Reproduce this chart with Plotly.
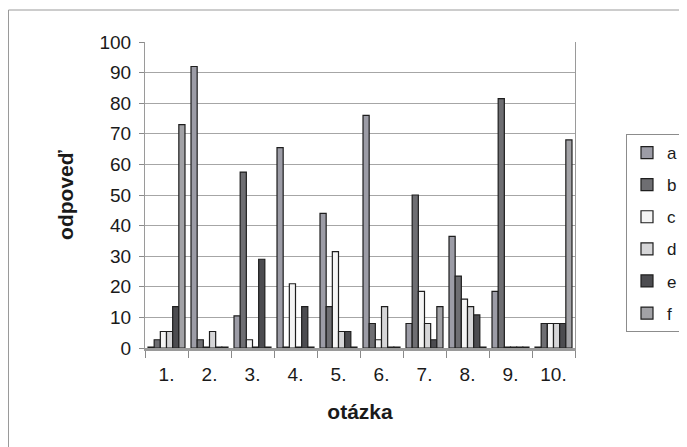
import plotly.graph_objects as go

categories = ["1.", "2.", "3.", "4.", "5.", "6.", "7.", "8.", "9.", "10."]
series_names = ["a", "b", "c", "d", "e", "f"]
a_vals = [0.3, 92, 10.5, 65.5, 44, 76, 8, 36.5, 18.5, 0.3]
b_vals = [2.7, 2.7, 57.5, 0.3, 13.5, 8, 50, 23.5, 81.5, 8]
c_vals = [5.4, 0.3, 2.7, 21, 31.5, 2.7, 18.5, 16, 0.3, 8]
d_vals = [5.4, 5.4, 0.3, 0.3, 5.4, 13.5, 8, 13.5, 0.3, 8]
e_vals = [13.5, 0.3, 29, 13.5, 5.4, 0.3, 2.7, 10.8, 0.3, 8]
f_vals = [73, 0.3, 0.3, 0.3, 0.3, 0.3, 13.5, 0.3, 0.3, 68]
series_values = [a_vals, b_vals, c_vals, d_vals, e_vals, f_vals]
colors = ["#9c9ca6", "#6e6e72", "#f4f4f4", "#d6d6d8", "#4c4c50", "#a2a2a6"]
y_ticks = [0, 10, 20, 30, 40, 50, 60, 70, 80, 90, 100]

FONT = "Liberation Sans, Arial, sans-serif"

# the page body adds an 8px offset; work in screen coordinates and convert
OFF = 8
W, H = 687, 447
L = 145 - OFF
T = 42 - OFF
B = H - (348 - OFF)
R = W - (575 - OFF)
PW = W - L - R
PH = H - T - B


def px(sx):
    return (sx - OFF - L) / PW


def py(sy):
    return (H - B - (sy - OFF)) / PH


fig = go.Figure()
for name, vals, col in zip(series_names, series_values, colors):
    fig.add_trace(go.Bar(
        x=categories, y=vals, name=name, legendgroup=name,
        marker=dict(color=col, line=dict(color="#1e1e1e", width=1.2)),
    ))

fig.update_layout(
    width=W, height=H,
    margin=dict(l=L, r=R, t=T, b=B, autoexpand=False),
    paper_bgcolor="white", plot_bgcolor="white",
    barmode="group", bargap=0.14, bargroupgap=0,
    font=dict(family=FONT, color="#1a1a1a"),
    showlegend=True,
    legend=dict(
        x=px(626), xanchor="left",
        y=py(134), yanchor="top",
        font=dict(size=17, family=FONT, color="#1a1a1a"),
        bordercolor="#8c8c8c", borderwidth=1,
        tracegroupgap=7, itemwidth=30,
    ),
    shapes=[dict(type="rect", xref="paper", yref="paper",
                 x0=px(8.5), x1=px(720),
                 y0=py(480), y1=py(10),
                 line=dict(color="#9a9a9a", width=1), layer="below")],
)

fig.update_xaxes(
    type="category",
    tickfont=dict(size=19, family=FONT),
    ticks="outside", tickson="boundaries", ticklen=7, tickcolor="#8a8a8a",
    ticklabelstandoff=7,
    showline=True, linecolor="#9a9a9a", linewidth=3, mirror=False,
    title=dict(text="<b>otázka</b>", font=dict(size=21, family=FONT), standoff=21),
)
fig.update_yaxes(
    range=[0, 100], tickvals=y_ticks,
    tickfont=dict(size=19, family=FONT),
    ticks="outside", ticklen=5, tickcolor="#8a8a8a",
    ticklabelstandoff=4,
    showgrid=True, gridcolor="#a6a6a6", gridwidth=1,
    showline=True, linecolor="#9a9a9a", linewidth=1, mirror=True,
    zeroline=False,
    title=dict(text="<b>odpoveď</b>", font=dict(size=21, family=FONT), standoff=20),
)

fig.write_html("out.html")
